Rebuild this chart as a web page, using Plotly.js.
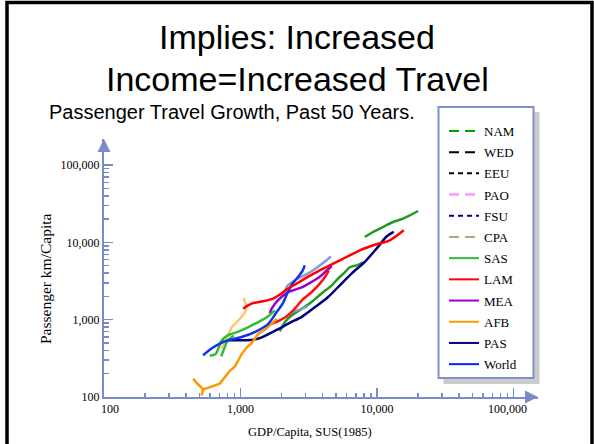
<!DOCTYPE html>
<html><head><meta charset="utf-8">
<script src="https://cdn.plot.ly/plotly-3.0.1.min.js"></script>
<style>html,body{margin:0;padding:0;background:#fff}#chart{width:594px;height:444px}</style>
</head><body><div id="chart"></div>
<script>
// ---- data ----
const greenTopX = [8139, 9363, 11080, 13120, 15530, 17390, 20010];
const greenTopY = [11750, 13630, 15820, 18360, 20320, 22420, 25480];
const redLongX = [1045, 1204, 1464, 1733, 1941, 2173, 2573, 3045, 3811, 4769, 5978, 7482, 9916, 12410, 15710];
const redLongY = [1392, 1616, 1730, 1875, 2112, 2450, 2931, 3504, 4356, 5317, 6474, 7903, 9450, 10650, 14340];
const navyX = [729, 988, 1231, 1432, 1639, 1941, 2297, 2812, 3502, 4362, 5523, 6538, 8139, 9966, 11800, 13280];
const navyY = [541, 541, 550, 592, 667, 774, 912, 1090, 1447, 1949, 2957, 3985, 5610, 8387, 11990, 13710];
const worldX = [532, 613, 705, 811, 1017, 1273, 1585, 1814, 2041, 2221, 2416, 2629, 2860, 2958];
const worldY = [346, 423, 491, 541, 597, 693, 872, 1210, 1630, 2262, 2957, 3537, 4356, 5054];
const steelX = [2111, 2221, 2629, 3112, 3684, 4266, 4586];
const steelY = [2330, 2786, 3401, 3948, 4807, 5867, 6610];
const steel2X = [2376, 2719, 3112];
const steel2Y = [1246, 1363, 1491];
const purpleX = [1639, 1696, 1877, 2221, 2812, 3329, 3811, 4288, 4665];
const purpleY = [1210, 1404, 1782, 2262, 2625, 3093, 3589, 4356, 4908];
const redShortX = [1696, 1941, 2184, 2499, 2812, 3329, 3811, 4146, 4436];
const redShortY = [885, 982, 1107, 1392, 1782, 2282, 2931, 3537, 4356];
const orangeX = [450, 487, 534, 518, 534, 586, 648, 705, 767, 835, 908, 963, 1022, 1112, 1204, 1273, 1350, 1507, 1687, 1845];
const orangeY = [173, 146, 126, 104, 126, 132, 140, 149, 180, 218, 246, 298, 362, 440, 495, 566, 657, 740, 885, 1027];
const lightOrangeX = [729, 767, 814, 864, 940, 1022, 1085, 1103, 1066, 1075];
const lightOrangeY = [427, 541, 647, 797, 940, 1090, 1265, 1536, 1782, 1920];
const greenBrightX = [596, 659, 693, 729, 807, 955, 1131, 1339, 1558, 1784];
const greenBrightY = [341, 362, 440, 541, 628, 697, 797, 925, 1074, 1323];
const greenBright2X = [723, 761, 807, 893];
const greenBright2Y = [336, 427, 541, 619];
const greenMidX = [1941, 2111, 2376, 2812, 3329, 3940, 4665, 5161, 5808, 6320, 7112, 7884];
const greenMidY = [708, 925, 1140, 1384, 1705, 2195, 2786, 3381, 4105, 4764, 5054, 5528];

const legendNames = ['NAM', 'WED', 'EEU', 'PAO', 'FSU', 'CPA', 'SAS', 'LAM', 'MEA', 'AFB', 'PAS', 'World'];
const legendColors = ['#00a000', '#000000', '#000000', '#ff80ff', '#000099', '#a8ad7c', '#33bb33', '#ff0000', '#9900cc', '#ff9900', '#000080', '#0022ff'];
const legendDash = ['10px,6px', '10px,6px', '5px,4px', '10px,6px', '5px,4px', '10px,6px', 'solid', 'solid', 'solid', 'solid', 'solid', 'solid'];

const xTickVals = [100, 1000, 10000, 100000];
const xTickText = ['\u00a0\u00a0\u00a0\u00a0100', '1,000', '10,000', '100,000\u00a0\u00a0\u00a0\u00a0'];
const yTickVals = [100, 1000, 10000, 100000];
const yTickText = ['100', '1,000', '10,000', '100,000'];
const minorVals = [200,300,400,500,600,700,800,900,2000,3000,4000,5000,6000,7000,8000,9000,20000,30000,40000,50000,60000,70000,80000,90000];

// ---- layout geometry ----
const W = 594, H = 444, L = 104, R = 56, T = 139, B = 47;
const pw = W - L - R, ph = H - T - B;
const px = v => (v - L) / pw;
const py = v => (H - B - v) / ph;
const axisColor = '#7a8cc8';

const series = [
  {name: 'green upper', x: greenTopX, y: greenTopY, color: '#229922'},
  {name: 'green mid', x: greenMidX, y: greenMidY, color: '#229922'},
  {name: 'navy', x: navyX, y: navyY, color: '#000080'},
  {name: 'steel', x: steelX, y: steelY, color: '#8899cc'},
  {name: 'steel 2', x: steel2X, y: steel2Y, color: '#8899cc'},
  {name: 'purple', x: purpleX, y: purpleY, color: '#9900cc'},
  {name: 'red short', x: redShortX, y: redShortY, color: '#ff1111'},
  {name: 'light orange', x: lightOrangeX, y: lightOrangeY, color: '#ffc870'},
  {name: 'orange', x: orangeX, y: orangeY, color: '#ff9900', linear: true},
  {name: 'green bright', x: greenBrightX, y: greenBrightY, color: '#33bb33'},
  {name: 'green bright 2', x: greenBright2X, y: greenBright2Y, color: '#33bb33'},
  {name: 'world', x: worldX, y: worldY, color: '#1133ee'},
  {name: 'red long', x: redLongX, y: redLongY, color: '#ff0000'}
];

const traces = series.map(s => ({
  type: 'scatter', mode: 'lines', name: s.name, x: s.x, y: s.y, showlegend: false,
  line: {color: s.color, width: 2.5, shape: s.linear ? 'linear' : 'spline', smoothing: 0.8}
}));
legendNames.forEach((n, i) => traces.push({
  type: 'scatter', mode: 'lines', name: n, x: [null], y: [null], legendgroup: 'g' + i,
  showlegend: true, line: {color: legendColors[i], width: 2, dash: legendDash[i]}
}));

const tickFont = {family: 'Liberation Serif, Times New Roman, serif', size: 12, color: '#000'};
const layout = {
  width: W, height: H,
  margin: {l: L, r: R, t: T, b: B},
  paper_bgcolor: '#fff', plot_bgcolor: 'rgba(0,0,0,0)',
  showlegend: true,
  legend: {
    x: px(444), y: py(116), xanchor: 'left', yanchor: 'top',
    bgcolor: 'rgba(0,0,0,0)', borderwidth: 0, maxheight: 420,
    font: {family: 'Liberation Serif, Times New Roman, serif', size: 13, color: '#000'},
    traceorder: 'grouped', tracegroupgap: 1.3
  },
  xaxis: {
    type: 'log', range: [2, 2 + pw / 136.5], fixedrange: true,
    tickmode: 'array', tickvals: xTickVals, ticktext: xTickText,
    ticks: 'inside', ticklen: 9, tickwidth: 1.5, tickcolor: axisColor,
    showline: true, linecolor: axisColor, linewidth: 2, showgrid: false, zeroline: false,
    tickfont: tickFont,
    minor: {tickmode: 'array', tickvals: minorVals, ticks: 'inside', ticklen: 4.5, tickwidth: 1.5, tickcolor: axisColor, showgrid: false}
  },
  yaxis: {
    type: 'log', range: [2, 2 + ph / 77.3], fixedrange: true,
    tickmode: 'array', tickvals: yTickVals, ticktext: yTickText,
    ticks: 'inside', ticklen: 9, tickwidth: 1.5, tickcolor: axisColor,
    showline: true, linecolor: axisColor, linewidth: 2, showgrid: false, zeroline: false,
    tickfont: tickFont,
    minor: {tickmode: 'array', tickvals: minorVals, ticks: 'inside', ticklen: 4.5, tickwidth: 1.5, tickcolor: axisColor, showgrid: false}
  },
  shapes: [
    {type: 'rect', xref: 'paper', yref: 'paper', x0: px(443.5), x1: px(539.5), y0: py(112), y1: py(384),
     fillcolor: '#cccccc', line: {width: 0}, layer: 'above'},
    {type: 'rect', xref: 'paper', yref: 'paper', x0: px(438.5), x1: px(533.5), y0: py(107), y1: py(378),
     fillcolor: '#ffffff', line: {color: '#8090cc', width: 2}, layer: 'above'},
    {type: 'rect', xref: 'paper', yref: 'paper', x0: px(7), x1: px(592), y0: py(2.5), y1: py(470),
     fillcolor: 'rgba(0,0,0,0)', line: {color: '#000', width: 3.5}, layer: 'above'}
  ],
  annotations: [
    {xref: 'paper', yref: 'paper', x: px(297), y: py(37), xanchor: 'center', yanchor: 'middle', showarrow: false,
     text: 'Implies: Increased', font: {family: 'Liberation Sans, Arial, sans-serif', size: 34, color: '#000'}},
    {xref: 'paper', yref: 'paper', x: px(297), y: py(79), xanchor: 'center', yanchor: 'middle', showarrow: false,
     text: 'Income=Increased Travel', font: {family: 'Liberation Sans, Arial, sans-serif', size: 34, color: '#000'}},
    {xref: 'paper', yref: 'paper', x: px(47), y: py(112), xanchor: 'left', yanchor: 'middle', showarrow: false,
     text: 'Passenger Travel Growth, Past 50 Years.', font: {family: 'Liberation Sans, Arial, sans-serif', size: 20, color: '#000'}},
    {xref: 'paper', yref: 'paper', x: px(310), y: py(432), xanchor: 'center', yanchor: 'middle', showarrow: false,
     text: 'GDP/Capita, SUS(1985)', font: {family: 'Liberation Serif, Times New Roman, serif', size: 12.5, color: '#000'}},
    {xref: 'paper', yref: 'paper', x: px(45), y: py(279), xanchor: 'center', yanchor: 'middle', showarrow: false, textangle: -90,
     text: 'Passenger km/Capita', font: {family: 'Liberation Serif, Times New Roman, serif', size: 15.5, color: '#000'}},
    {xref: 'paper', yref: 'paper', x: 1, y: 0, ax: -14, ay: 0, showarrow: true, arrowhead: 2, arrowsize: 1.3, arrowwidth: 2, arrowcolor: axisColor, text: ''},
    {xref: 'paper', yref: 'paper', x: 0, y: 1, ax: 0, ay: 14, showarrow: true, arrowhead: 2, arrowsize: 1.3, arrowwidth: 2, arrowcolor: axisColor, text: ''}
  ]
};

Plotly.newPlot('chart', traces, layout, {displayModeBar: false, staticPlot: true});
</script>
</body></html>
